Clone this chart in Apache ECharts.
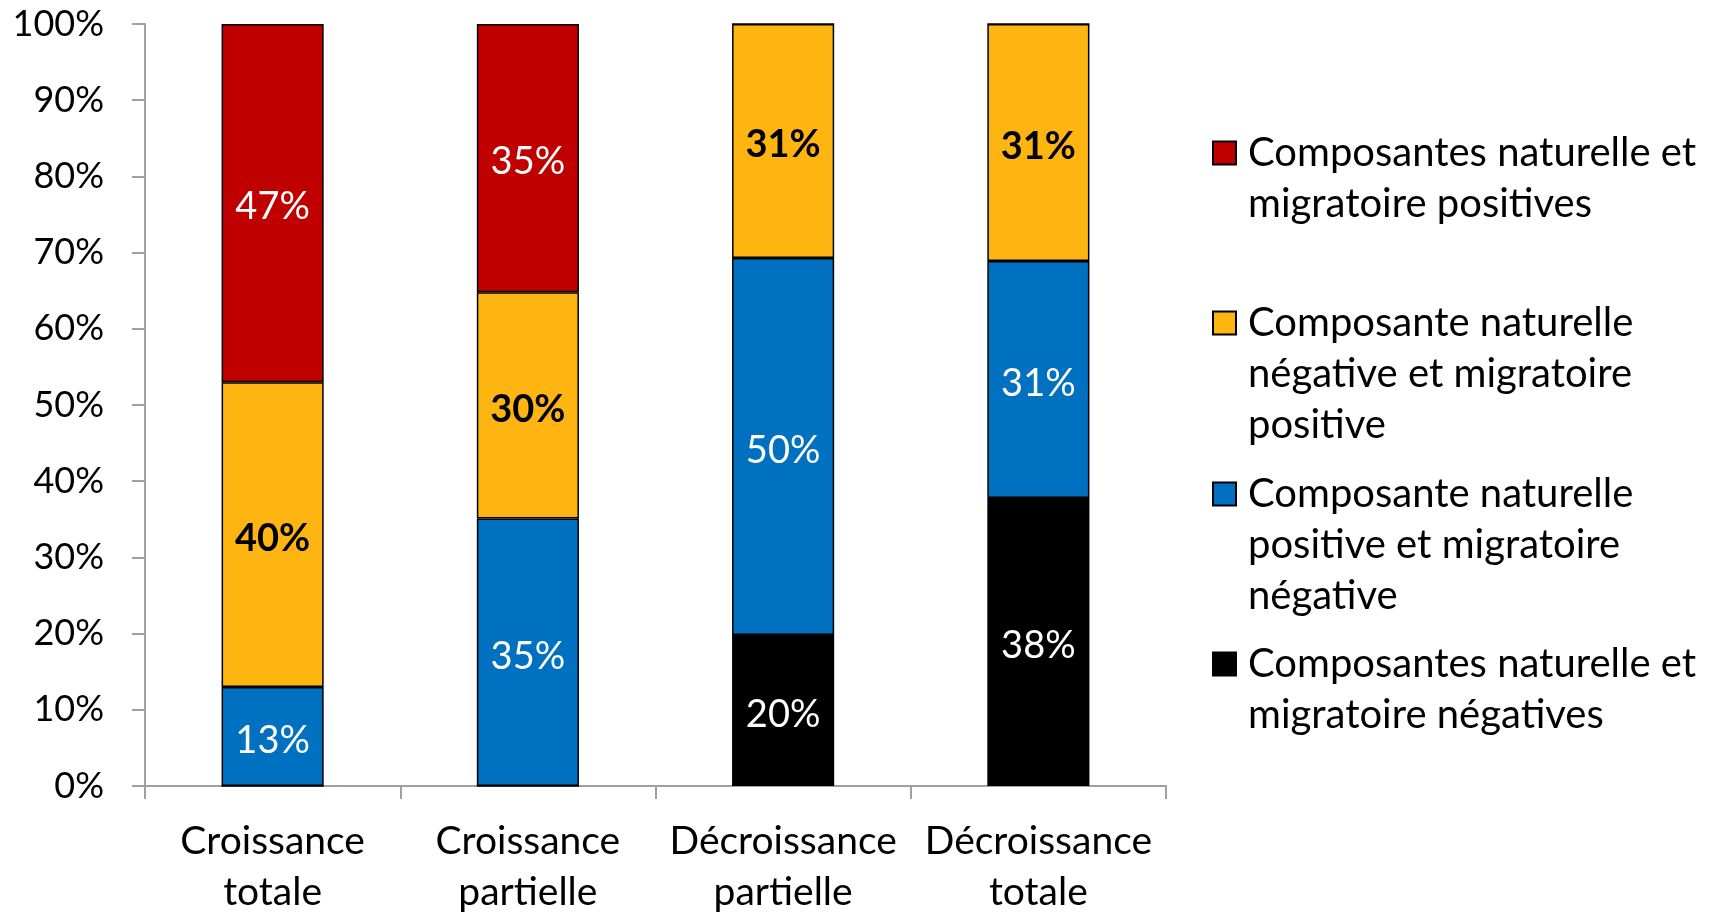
<!DOCTYPE html>
<html>
<head>
<meta charset="utf-8">
<script src="https://cdn.jsdelivr.net/npm/echarts@6/dist/echarts.min.js"></script>
<style>
  html, body { margin: 0; padding: 0; background: #fff; }
  #myChart { width: 1713px; height: 912px; }
</style>
</head>
<body>
<div id="myChart"></div>
<script>
// categories (x axis)
var categories = ['Croissance\ntotale', 'Croissance\npartielle', 'Décroissance\npartielle', 'Décroissance\ntotale']
var yTicks = [0, 10, 20, 30, 40, 50, 60, 70, 80, 90, 100]

// series values, in %, bottom to top
var negNeg = [0, 0, 19.8, 37.8]
var posNeg = [13, 35.1, 49.5, 31.1]
var negPos = [40, 29.7, 30.7, 31.1]
var posPos = [47, 35.2, 0, 0]

var names = [
  'Composantes naturelle et\nmigratoire positives',
  'Composante naturelle\nnégative et migratoire\npositive',
  'Composante naturelle\npositive et migratoire\nnégative',
  'Composantes naturelle et\nmigratoire négatives'
]
var colors = ['#C00000', '#FFB511', '#0070C0', '#000000']

var font = 'Lato'
var lh = 51

function makeSeries (name, data, color, labelColor, bold) {
  return {
    name: name,
    type: 'bar',
    stack: 'total',
    barWidth: '40%',
    data: data,
    itemStyle: { color: color, borderColor: '#000', borderWidth: 1.5 },
    label: {
      show: true,
      position: 'inside',
      offset: [0, 4],
      fontFamily: font,
      fontSize: 38,
      color: labelColor,
      fontWeight: bold ? 'bold' : 'normal',
      formatter: function (p) { return p.value > 0 ? Math.round(p.value) + '%' : '' }
    }
  }
}

// one legend per entry so each gets its own slot;
// blank lines in front keep the marker on the first line of text
var legendCenters = [153, 323, 494, 664]
var legends = names.map(function (n, i) {
  var lines = n.split('\n').length
  var pre = new Array(lines).join('\n')
  return {
    data: [n],
    orient: 'vertical',
    left: 1212,
    top: legendCenters[i] - (2 * lines - 1) * lh / 2,
    padding: 0,
    icon: 'rect',
    itemWidth: 23,
    itemHeight: 23,
    selectedMode: false,
    formatter: function (name) { return pre + name },
    textStyle: {
      fontFamily: font,
      fontSize: 40,
      color: '#000',
      lineHeight: lh,
      padding: [0, 0, 0, 7]
    }
  }
})

var option = {
  animation: false,
  textStyle: { fontFamily: font },
  grid: { left: 145, top: 24, right: 547, bottom: 126, outerBoundsMode: 'none', containLabel: false },
  legend: legends,
  xAxis: {
    type: 'category',
    data: categories,
    axisLine: { lineStyle: { color: '#A0A0A0', width: 2 } },
    axisTick: { show: true, length: 13, lineStyle: { color: '#A0A0A0', width: 2 } },
    axisLabel: { interval: 0, fontFamily: font, fontSize: 39, color: '#000', lineHeight: lh, margin: 30 }
  },
  yAxis: {
    type: 'value',
    min: yTicks[0],
    max: yTicks[yTicks.length - 1],
    interval: 10,
    axisLine: { show: true, lineStyle: { color: '#A0A0A0', width: 2 } },
    axisTick: { show: true, length: 13, lineStyle: { color: '#A0A0A0', width: 2 } },
    splitLine: { show: false },
    axisLabel: { fontFamily: font, fontSize: 36, color: '#000', margin: 41, formatter: '{value}%' }
  },
  series: [
    makeSeries(names[3], negNeg, colors[3], '#fff', false),
    makeSeries(names[2], posNeg, colors[2], '#fff', false),
    makeSeries(names[1], negPos, colors[1], '#000', true),
    makeSeries(names[0], posPos, colors[0], '#fff', false)
  ]
}

var myChart = echarts.init(document.getElementById('myChart'))
myChart.setOption(option)
</script>
</body>
</html>
